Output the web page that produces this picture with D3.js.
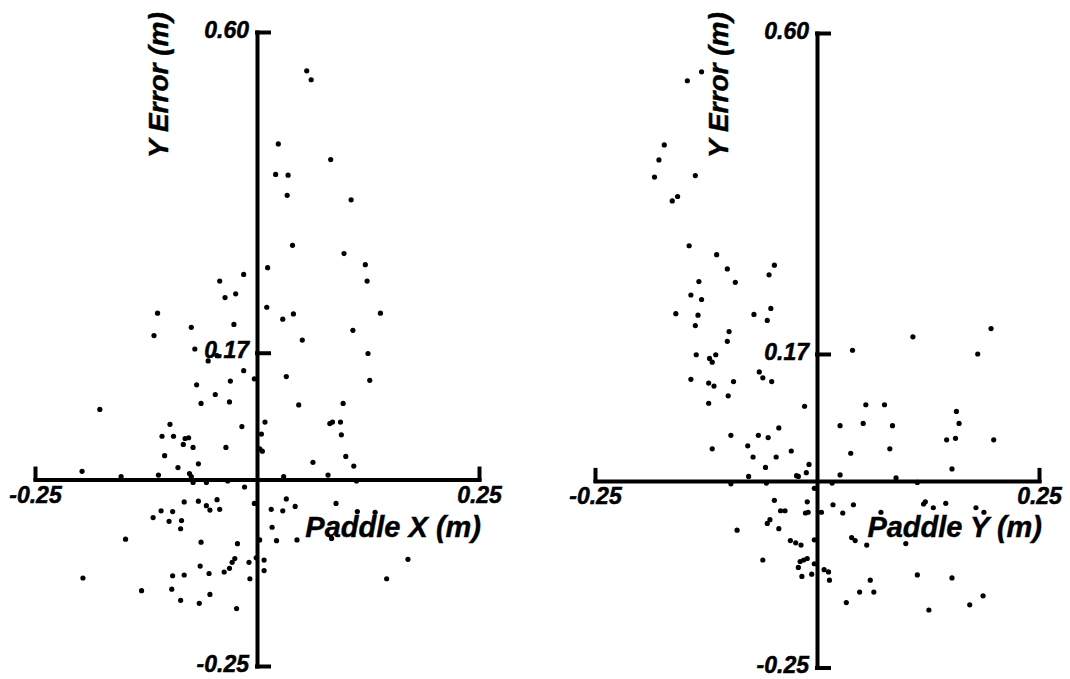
<!DOCTYPE html>
<html>
<head>
<meta charset="utf-8">
<script src="https://cdn.jsdelivr.net/npm/d3@7"></script>
<style>
  html, body { margin: 0; padding: 0; background: #fff; }
  svg { display: block; }
  text { font-family: "Liberation Sans", Arial, Helvetica, sans-serif; font-weight: bold; font-style: italic; fill: #000; }
</style>
</head>
<body>
<svg id="chart" width="1070" height="679"></svg>
<script>
// ---- data ----
const xDomain = [-0.25, 0.25];
const yDomain = [-0.25, 0.60];
const xTicks = [-0.25, 0.25];
const yTicks = [0.60, 0.17, -0.25];
const yLabel = "Y Error (m)";
const xLabels = ["Paddle X (m)", "Paddle Y (m)"];

// Left panel: [paddle X, Y error]
const paddleXPoints = [
  [0.056,0.548],[0.061,0.536],[0.024,0.450],[0.083,0.429],[0.021,0.409],[0.035,0.408],[0.034,0.381],[0.106,0.375],
  [0.040,0.314],[0.098,0.303],[0.012,0.284],[-0.015,0.275],[-0.042,0.266],[-0.024,0.249],[-0.036,0.244],[0.011,0.231],
  [-0.112,0.223],[0.029,0.215],[0.041,0.222],[-0.074,0.204],[-0.026,0.208],[0.108,0.200],[-0.116,0.193],[0.051,0.187],
  [-0.070,0.175],[-0.045,0.166],[-0.055,0.159],[-0.015,0.146],[-0.003,0.135],[0.033,0.138],[-0.068,0.127],[-0.030,0.132],
  [-0.047,0.114],[-0.063,0.102],[-0.031,0.104],[0.047,0.100],[0.097,0.102],[-0.177,0.094],[-0.098,0.074],[0.009,0.077],
  [-0.017,0.071],[0.082,0.075],[0.085,0.077],[0.094,0.077],[-0.107,0.058],[-0.094,0.058],[-0.081,0.055],[-0.077,0.056],
  [-0.083,0.047],[-0.072,0.043],[-0.035,0.043],[0.095,0.060],[0.005,0.061],[0.006,0.038],[0.003,0.041],[0.063,0.023],
  [0.100,0.031],[0.109,0.018],[-0.104,0.032],[-0.089,0.016],[-0.066,0.021],[-0.197,0.011],[-0.153,0.004],[-0.111,0.006],
  [-0.076,0.008],[-0.074,0.004],[-0.072,-0.004],[-0.057,-0.004],[-0.033,-0.002],[0.030,0.004],[0.080,0.006],[0.112,-0.002],
  [-0.014,-0.010],[-0.003,-0.032],[-0.082,-0.030],[-0.066,-0.029],[-0.045,-0.027],[-0.057,-0.035],[-0.053,-0.041],[-0.042,-0.040],
  [-0.108,-0.042],[-0.095,-0.043],[-0.117,-0.051],[-0.099,-0.056],[-0.085,-0.055],[-0.086,-0.066],[0.033,-0.026],[0.043,-0.036],
  [0.016,-0.040],[0.029,-0.042],[0.089,-0.032],[0.113,-0.043],[0.017,-0.064],[-0.148,-0.080],[-0.063,-0.084],[-0.022,-0.086],
  [0.003,-0.081],[0.022,-0.082],[0.045,-0.081],[-0.025,-0.106],[-0.028,-0.111],[-0.031,-0.119],[-0.037,-0.124],[-0.009,-0.111],
  [-0.001,-0.105],[0.008,-0.108],[0.008,-0.122],[-0.008,-0.133],[-0.064,-0.116],[-0.054,-0.126],[-0.095,-0.129],[-0.082,-0.128],
  [-0.196,-0.132],[-0.130,-0.149],[-0.096,-0.147],[-0.053,-0.154],[-0.086,-0.162],[-0.065,-0.166],[-0.023,-0.173],[0.122,0.288],
  [0.124,0.266],[0.139,0.223],[0.125,0.169],[0.127,0.133],[0.133,-0.044],[0.084,-0.079],[0.170,-0.107],[0.146,-0.133]
];

// Right panel: [paddle Y, Y error]
const paddleYPoints = [
  [-0.130,0.548],[-0.146,0.536],[-0.172,0.450],[-0.178,0.430],[-0.137,0.409],[-0.183,0.407],[-0.157,0.381],[-0.163,0.375],
  [-0.144,0.315],[-0.113,0.303],[-0.101,0.284],[-0.048,0.289],[-0.054,0.276],[-0.133,0.267],[-0.092,0.266],[-0.142,0.249],
  [-0.130,0.243],[-0.159,0.224],[-0.134,0.222],[-0.071,0.223],[-0.052,0.231],[-0.056,0.215],[-0.137,0.208],[-0.099,0.200],
  [-0.101,0.187],[-0.136,0.169],[-0.121,0.164],[-0.118,0.159],[-0.114,0.169],[0.040,0.175],[-0.142,0.136],[-0.122,0.131],
  [-0.116,0.127],[-0.094,0.133],[-0.065,0.146],[-0.061,0.138],[-0.051,0.133],[-0.122,0.104],[-0.100,0.114],[-0.014,0.100],
  [0.055,0.102],[0.076,0.102],[0.026,0.074],[0.052,0.077],[0.085,0.074],[-0.097,0.061],[-0.066,0.061],[-0.055,0.058],
  [-0.043,0.071],[-0.118,0.043],[-0.078,0.047],[-0.072,0.032],[-0.046,0.032],[-0.029,0.040],[0.038,0.037],[0.082,0.043],
  [-0.058,0.018],[-0.009,0.022],[0.108,0.193],[0.196,0.204],[0.181,0.170],[0.157,0.093],[0.160,0.077],[0.146,0.055],
  [0.156,0.057],[0.199,0.055],[0.152,0.016],[-0.012,0.011],[-0.077,0.006],[-0.023,0.007],[-0.021,0.006],[0.026,0.008],
  [0.089,0.004],[-0.097,-0.004],[-0.057,-0.003],[0.017,-0.003],[-0.003,-0.010],[-0.048,-0.026],[-0.011,-0.028],[-0.041,-0.040],
  [-0.036,-0.040],[-0.013,-0.043],[-0.010,-0.042],[0.005,-0.042],[0.018,-0.032],[0.029,-0.043],[0.041,-0.032],[0.072,-0.042],
  [-0.056,-0.057],[-0.053,-0.052],[-0.043,-0.064],[-0.090,-0.066],[-0.003,-0.079],[0.039,-0.076],[0.043,-0.080],[0.056,-0.086],
  [-0.030,-0.080],[-0.024,-0.083],[-0.018,-0.086],[-0.061,-0.106],[-0.019,-0.108],[-0.015,-0.106],[-0.011,-0.104],[-0.003,-0.111],
  [-0.021,-0.116],[0.008,-0.119],[0.013,-0.122],[0.014,-0.133],[-0.017,-0.128],[-0.006,-0.125],[0.060,-0.133],[0.048,-0.149],
  [0.064,-0.149],[0.033,-0.163],[0.113,-0.002],[0.120,-0.031],[0.122,-0.028],[0.131,-0.036],[0.145,-0.030],[0.188,-0.042],
  [0.179,-0.036],[0.100,-0.084],[0.113,-0.126],[0.152,-0.130],[0.126,-0.173],[0.172,-0.166],[0.187,-0.154]
];

// ---- drawing ----
const svg = d3.select("#chart");
const fmt = d => d.toFixed(2);

const panels = [
  { points: paddleXPoints, xLabel: xLabels[0], xRange: [35, 479], yRange: [666, 32], yLabelX: 168, xLabelEnd: 481 },
  { points: paddleYPoints, xLabel: xLabels[1], xRange: [595, 1039], yRange: [667.5, 33], yLabelX: 728, xLabelEnd: 1042 }
];

panels.forEach(p => {
  const x = d3.scaleLinear().domain(xDomain).range(p.xRange);
  const y = d3.scaleLinear().domain(yDomain).range(p.yRange);
  const g = svg.append("g");

  // Y axis (vertical line at x=0), ticks pointing right, labels on left
  const yAxis = d3.axisLeft(y).tickValues(yTicks).tickFormat(fmt)
    .tickSizeInner(-12).tickSizeOuter(0).tickPadding(8);
  const gy = g.append("g").attr("transform", `translate(${x(0)},0)`).call(yAxis);

  // X axis (horizontal line at y=0), end ticks pointing up, labels below
  const xAxis = d3.axisBottom(x).tickValues(xTicks).tickFormat(fmt)
    .tickSizeInner(-11).tickSizeOuter(0).tickPadding(7);
  const gx = g.append("g").attr("transform", `translate(0,${y(0)})`).call(xAxis);

  [gx, gy].forEach(a => {
    a.select(".domain").attr("stroke", "#000").attr("stroke-width", 4).attr("stroke-linecap", "square");
    a.selectAll(".tick line").attr("stroke", "#000").attr("stroke-width", 4).attr("stroke-linecap", "square");
    a.selectAll(".tick text")
      .attr("font-family", "'Liberation Sans', Arial, sans-serif")
      .attr("font-weight", "bold").attr("font-style", "italic")
      .attr("font-size", 23).attr("fill", "#000")
      .attr("stroke", "#000").attr("stroke-width", 0.5);
  });
  gy.selectAll(".tick text").attr("dy", "0.22em");

  // Axis titles
  g.append("text")
    .attr("transform", `translate(${p.yLabelX},158) rotate(-90)`)
    .attr("text-anchor", "start")
    .attr("font-size", 28)
    .attr("stroke", "#000").attr("stroke-width", 0.4)
    .text(yLabel);

  g.append("text")
    .attr("x", p.xLabelEnd).attr("y", 537)
    .attr("text-anchor", "end")
    .attr("font-size", 29)
    .attr("stroke", "#000").attr("stroke-width", 0.4)
    .text(p.xLabel);

  // Points
  g.append("g").selectAll("circle").data(p.points).join("circle")
    .attr("cx", d => x(d[0]))
    .attr("cy", d => y(d[1]))
    .attr("r", 2.6)
    .attr("fill", "#000");
});
</script>
</body>
</html>
